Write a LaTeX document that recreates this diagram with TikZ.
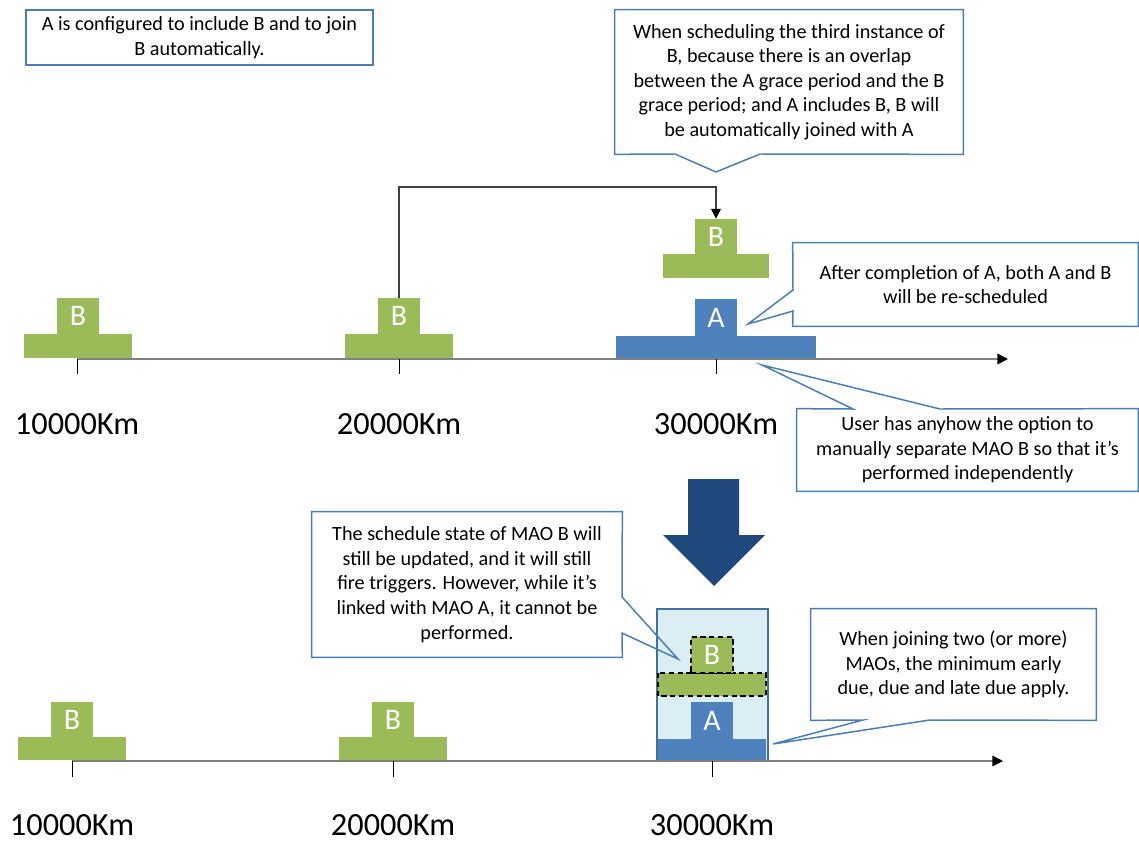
\documentclass[tikz,border=0pt]{standalone}
\usepackage{fontspec}
\setmainfont{Carlito}
\usetikzlibrary{arrows.meta}
\definecolor{bgreen}{HTML}{9BBB59}
\definecolor{ablue}{HTML}{4F81BD}
\definecolor{noteline}{HTML}{4A7EBB}
\definecolor{bigarrow}{HTML}{1F497D}
\definecolor{joinfill}{HTML}{DBEEF4}
\definecolor{joinline}{HTML}{41719C}
\tikzset{
  stemB/.style={fill=bgreen,text=white,minimum width=0.84cm,minimum height=0.72cm,inner sep=0,font=\fontsize{17}{17}\selectfont},
  stemA/.style={stemB,fill=ablue,minimum height=0.74cm},
  km/.style={anchor=base,inner sep=0,font=\fontsize{18.4}{20}\selectfont},
  note/.style={align=center,inner sep=0,font=\fontsize{11.5}{14}\selectfont},
  notebox/.style={draw=noteline,line width=0.85pt},
  kmaxis/.style={draw=black!50,line width=0.9pt,-{Triangle[length=6pt,width=6pt,color=black]}},
}
\begin{document}
\begin{tikzpicture}[x=0.02cm,y=-0.02cm]
\useasboundingbox (0,0) rectangle (1139,841);
%note
\node[note,notebox,minimum width=6.94cm,minimum height=1.1cm] (cfg) at (199.5,37.5) {A is configured to include B and to join\\B automatically.};
%upper timeline
\foreach \x/\n in {78/tb1,399/tb2}{
  \fill[bgreen] (\x-54,334) rectangle (\x+54,358);
  \node[stemB] (\n) at (\x,316) {B};
}
\fill[bgreen] (663,254) rectangle (769,278);
\node[stemB] (tb3) at (716,237) {B};
\fill[ablue] (616,336) rectangle (816,358);
\node[stemA] (ta) at (716,317.5) {A};
\draw[kmaxis] (77,359)--(1008,359);
\foreach \x/\l in {77/10000,399/20000,716/30000}{
  \draw (\x,359)--(\x,374);
  \node[km] (top\l) at (\x,434) {\l Km};
}
\coordinate (bend) at (399,187);
\draw[black!75,line width=0.7pt,-{Triangle[length=5.5pt,width=5.5pt,color=black]}] (tb2.north)--(bend)-|(tb3.north);
%callouts
\coordinate (pA) at (716,172);
\coordinate (pB) at (748,324);
\coordinate (pC) at (762,365);
\node[note,minimum width=6.96cm,minimum height=2.88cm] (cA) at (789,82) {When scheduling the third instance of\\B, because there is an overlap\\between the A grace period and the B\\grace period; and A includes B, B will\\be automatically joined with A};
\draw[notebox] (cA.south west)--(675,154)--(pA)--(760,154)--(cA.south east)--(cA.north east)--(cA.north west)--cycle;
\node[note,minimum width=6.9cm,minimum height=1.66cm] (cB) at (965.5,284.5) {After completion of A, both A and B\\will be re-scheduled};
\draw[notebox] (cB.north west)--(793,290)--(pB)--(793,311)--(cB.south west)--(cB.south east)--(cB.north east)--cycle;
\node[note,minimum width=6.82cm,minimum height=1.64cm] (cC) at (967.5,450) {User has anyhow the option to\\manually separate MAO B so that it’s\\performed independently};
\draw[notebox] (cC.north west)--(853,409)--(pC)--(940,409)--(cC.north east)--(cC.south east)--(cC.south west)--cycle;
%big arrow
\fill[bigarrow] (688,479)--(739,479)--(739,535)--(765,535)--(714,586)--(663,535)--(688,535)--cycle;
%lower timeline
\foreach \x/\n in {72/bb1,393/bb2}{
  \fill[bgreen] (\x-54,737) rectangle (\x+54,760);
  \node[stemB] (\n) at (\x,719.5) {B};
}
\draw[joinline,fill=joinfill,line width=1.1pt] (657,609) rectangle (768,761);
\draw[dash pattern=on 3pt off 2pt,fill=bgreen,line width=0.9pt] (658,673) rectangle (766,696);
\node[stemB,draw=black,dash pattern=on 3pt off 2pt,line width=0.9pt] (jb) at (712,655) {B};
\fill[ablue] (658,739) rectangle (766,760);
\node[stemA] (ja) at (712,720.5) {A};
\draw[kmaxis] (72,761)--(1003,761);
\foreach \x/\l in {72/10000,393/20000,712/30000}{
  \draw (\x,761)--(\x,777);
  \node[km] (bot\l) at (\x,835) {\l Km};
}
\coordinate (pD) at (678,659);
\coordinate (pE) at (773,744);
\node[note,minimum width=6.2cm,minimum height=2.9cm] (cD) at (467,584.5) {The schedule state of MAO B will\\still be updated, and it will still\\fire triggers. However, while it’s\\linked with MAO A, it cannot be\\performed.};
\draw[notebox] (cD.north west)--(cD.north east)--(622,597)--(pD)--(622,633)--(cD.south east)--(cD.south west)--cycle;
\node[note,minimum width=5.7cm,minimum height=2.22cm] (cE) at (953.5,664.5) {When joining two (or more)\\MAOs, the minimum early\\due, due and late due apply.};
\draw[notebox] (cE.north west)--(cE.north east)--(cE.south east)--(930,720)--(pE)--(863,720)--(cE.south west)--cycle;
\end{tikzpicture}
\end{document}
